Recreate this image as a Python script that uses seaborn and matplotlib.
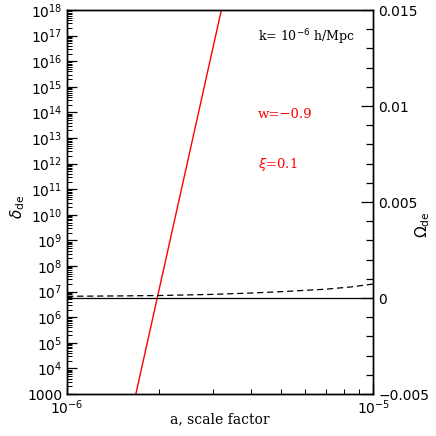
import matplotlib
matplotlib.use("Agg")
import matplotlib.pyplot as plt
import matplotlib.ticker as mticker
import seaborn as sns
import pandas as pd
import numpy as np

# red line: delta_de vs scale factor (left axis)
a_delta = [1.677e-6, 3.19e-6]
delta_de = [1e3, 1e18]

# dashed line: Omega_de vs scale factor (right axis)
a_omega = [1e-6, 1.5e-6, 2e-6, 3e-6, 4e-6, 5e-6, 7e-6, 8.5e-6, 1e-5]
omega_de = [0.00009, 0.00011, 0.00013, 0.00019, 0.00026, 0.00033, 0.00046, 0.00058, 0.00073]

sns.set_style("ticks")
plt.rcParams["font.family"] = ["DejaVu Sans"]
plt.rcParams["text.color"] = "black"
plt.rcParams["axes.labelcolor"] = "black"
plt.rcParams["xtick.color"] = "black"
plt.rcParams["ytick.color"] = "black"
plt.rcParams["axes.edgecolor"] = "black"

fig = plt.figure(figsize=(4.36, 4.36), dpi=100)
ax = fig.add_axes([0.154, 0.0963, 0.702, 0.8807])
ax2 = ax.twinx()

df_d = pd.DataFrame({"a": a_delta, "delta": delta_de})
df_o = pd.DataFrame({"a": a_omega, "omega": omega_de})

sns.lineplot(data=df_d, x="a", y="delta", ax=ax, color="red", lw=1.0)
sns.lineplot(data=df_o, x="a", y="omega", ax=ax2, color="black", lw=0.9,
             linestyle=(0, (5, 3)))
ax2.axhline(0, color="black", lw=0.9)

ax.set_xscale("log")
ax.set_yscale("log")
ax.set_xlim(1e-6, 1e-5)
ax.set_ylim(1e3, 1e18)
ax2.set_ylim(-0.005, 0.015)

for s in ["top", "bottom", "left", "right"]:
    ax.spines[s].set_linewidth(1.0)
    ax2.spines[s].set_linewidth(1.0)

# left axis ticks
ax.yaxis.set_major_locator(mticker.LogLocator(base=10, numticks=30))
ax.yaxis.set_minor_locator(mticker.LogLocator(base=10, subs=np.arange(2, 10), numticks=30))
ax.yaxis.set_minor_formatter(mticker.NullFormatter())

def ylab(v, pos):
    e = int(round(np.log10(v)))
    if e == 3:
        return "1000"
    return r"$10^{%d}$" % e

ax.yaxis.set_major_formatter(mticker.FuncFormatter(ylab))

ax.xaxis.set_major_locator(mticker.FixedLocator([1e-6, 1e-5]))
ax.xaxis.set_minor_locator(mticker.LogLocator(base=10, subs=np.arange(2, 10), numticks=10))
ax.xaxis.set_minor_formatter(mticker.NullFormatter())
ax.xaxis.set_major_formatter(mticker.FuncFormatter(lambda v, p: r"$10^{%d}$" % int(round(np.log10(v)))))

ax.tick_params(axis="both", which="major", direction="in", length=7, width=0.9,
               labelsize=10, top=False, right=False)
ax.tick_params(axis="both", which="minor", direction="in", length=3.5, width=0.7,
               top=False, right=False)
ax.tick_params(axis="x", which="major", pad=3)

ax2.yaxis.set_major_locator(mticker.FixedLocator([-0.005, 0, 0.005, 0.01, 0.015]))
ax2.yaxis.set_minor_locator(mticker.MultipleLocator(0.001))
ax2.yaxis.set_major_formatter(mticker.FuncFormatter(
    lambda v, p: {-0.005: "\u22120.005", 0: "0", 0.005: "0.005", 0.01: "0.01", 0.015: "0.015"}.get(round(v, 3), "")))
ax2.tick_params(axis="y", which="major", direction="in", length=9, width=0.9, labelsize=10)
ax2.tick_params(axis="y", which="minor", direction="in", length=5, width=0.9)

ax.set_xlabel("a, scale factor", family="DejaVu Serif", fontsize=10, labelpad=-3)
ax.set_ylabel(r"$\delta_{\rm de}$", fontsize=11)
ax.yaxis.set_label_coords(-0.13, 0.487)
ax2.set_ylabel(r"$\Omega_{\rm de}$", fontsize=11)
ax2.yaxis.set_label_coords(1.13, 0.44)

ax.text(0.622, 0.929, r"k= 10$^{-6}$ h/Mpc", transform=ax.transAxes,
        family="DejaVu Serif", fontsize=9, va="center")
ax.text(0.622, 0.729, "w=\u22120.9", transform=ax.transAxes,
        family="DejaVu Serif", fontsize=9.5, color="red", va="center")
ax.text(0.622, 0.599, r"$\xi$=0.1", transform=ax.transAxes,
        family="DejaVu Serif", fontsize=9.5, color="red", va="center")

fig.savefig("out.png", dpi=100)
plt.close(fig)
